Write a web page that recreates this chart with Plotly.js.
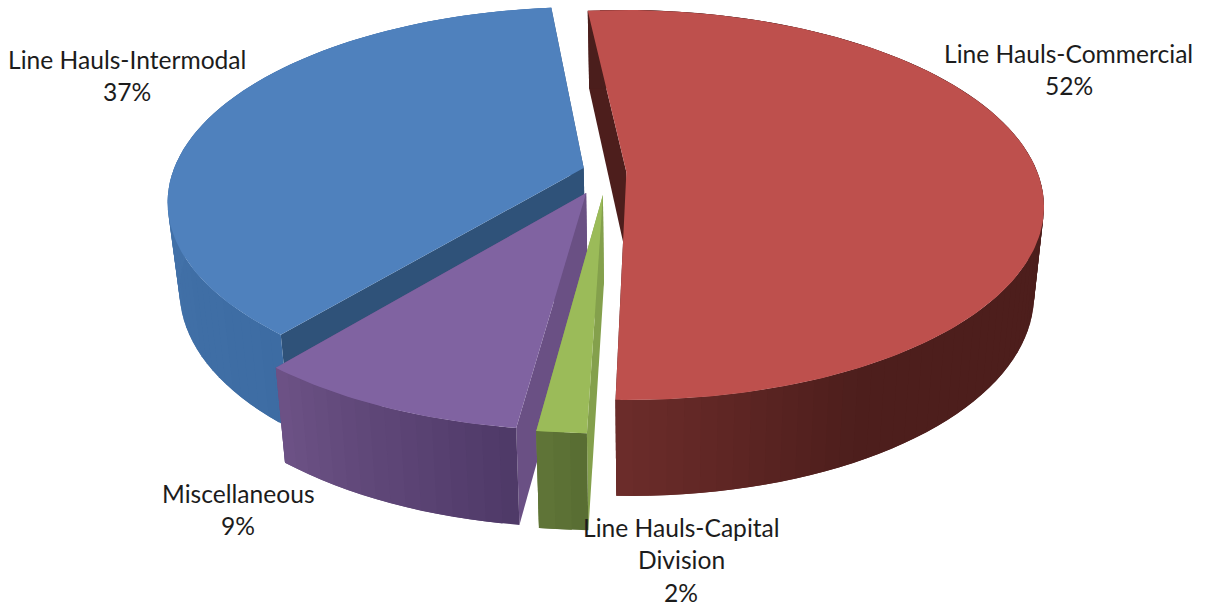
<!DOCTYPE html>
<html><head><meta charset="utf-8">
<script src="https://cdn.plot.ly/plotly-3.0.1.min.js"></script>
<style>html,body{margin:0;padding:0;background:#fff}#chart{width:1206px;height:606px}</style>
</head><body><div id="chart"></div>
<script>
// ---- data ----
const categories = ["Line Hauls-Commercial", "Line Hauls-Capital Division", "Miscellaneous", "Line Hauls-Intermodal"];
const percents = [52.1, 1.6, 8.9, 37.4];
// ---- label text, split where the reference wraps ----
const labelLines = [["Line Hauls-Commercial", "52%"], ["Line Hauls-Capital", "Division", "2%"], ["Miscellaneous", "9%"], ["Line Hauls-Intermodal", "37%"]];
const labelCenterX = [1068.5, 681, 238, 126.5];
const labelFirstY = [53, 527, 493, 59];
const labelLineStep = 32.7;
// ---- styles ----
const topColors = ["#BE504D", "#9BBB59", "#8063A1", "#4F81BD"];
const cutColors = ["#4D1E1C", "#84A04C", "#6A5084", "#2F5279"];
const wallStops = [
  [[0, [75, 30, 28]], [0.84, [77, 30, 28]], [1, [108, 44, 42]]],
  [[0, [88, 108, 50]], [1, [96, 118, 56]]],
  [[0, [78, 57, 103]], [1, [109, 82, 134]]],
  [[0, [61, 108, 163]], [0.45, [68, 115, 170]], [1, [76, 124, 182]]]
];
// ---- pie geometry (plan units, radius = 1) ----
const startAngle = -5.8, cx = 605, cy = 172, R = 411, A = 189.4, K = 0.169;
const explodeX = [0.052, -0.005, -0.045, -0.052];
const explodeY = [0, 0.119, 0.109, -0.021];
const depth0 = 87, depth1 = 9, taper = 0.025, bottomShift = 1;

function project(X, Y, Z) {
  const s = 1 / (1 - K * Y);
  return [cx + R * X * s * (1 - taper * Z) + bottomShift * Z, cy + A * Y * s + Z * (depth0 + depth1 * Y)];
}
const rad = d => d * Math.PI / 180;
function rim(i, deg, Z) {
  return project(explodeX[i] + Math.sin(rad(deg)), explodeY[i] - Math.cos(rad(deg)), Z);
}
function poly(pts, color, w) {
  return {
    type: "scatter", mode: "lines", x: pts.map(p => p[0]), y: pts.map(p => p[1]),
    fill: "toself", fillcolor: color, line: { color: color, width: w }, hoverinfo: "skip", showlegend: false
  };
}
function stopColor(stops, f) {
  for (let j = 0; j < stops.length - 1; j++) {
    const a = stops[j], b = stops[j + 1];
    if (f <= b[0]) {
      const t = (f - a[0]) / (b[0] - a[0]);
      return "rgb(" + a[1].map((v, n) => Math.round(v + (b[1][n] - v) * t)).join(",") + ")";
    }
  }
  return "rgb(" + stops[stops.length - 1][1].join(",") + ")";
}
const total = percents.reduce((a, b) => a + b, 0);
const ranges = [];
let ang = startAngle;
percents.forEach(p => { ranges.push([ang, ang + p / total * 360]); ang += p / total * 360; });

const traces = [];
[3, 2, 1, 0].forEach(i => {
  const [a0, a1] = ranges[i];
  const apexT = project(explodeX[i], explodeY[i], 0), apexB = project(explodeX[i], explodeY[i], 1);
  traces.push(poly([apexT, rim(i, a1, 0), rim(i, a1, 1), apexB, apexT], cutColors[i], 0));
  traces.push(poly([apexT, rim(i, a0, 0), rim(i, a0, 1), apexB, apexT], cutColors[i], 0));
  // wall strips: each strip runs a little into the next so no seams show between them
  const n = Math.max(2, Math.round((a1 - a0) / 2));
  for (let j = 0; j < n; j++) {
    const u = a0 + (a1 - a0) * j / n, v = a0 + (a1 - a0) * Math.min(n, j + 2) / n;
    const mid = a0 + (a1 - a0) * Math.min(n, j + 1) / n;
    traces.push(poly([rim(i, u, 0), rim(i, mid, 0), rim(i, v, 0), rim(i, v, 1), rim(i, mid, 1), rim(i, u, 1), rim(i, u, 0)],
      stopColor(wallStops[i], (j + 0.5) / n), 0));
  }
  const face = [apexT];
  const m = Math.max(6, Math.round(a1 - a0));
  for (let j = 0; j <= m; j++) face.push(rim(i, a0 + (a1 - a0) * j / m, 0));
  face.push(apexT);
  traces.push(poly(face, topColors[i], 0));
});

const annotations = [];
labelLines.forEach((lines, i) => lines.forEach((t, j) => annotations.push({
  text: t, x: labelCenterX[i], y: labelFirstY[i] + j * labelLineStep, xref: "x", yref: "y",
  showarrow: false, xanchor: "center", yanchor: "middle",
  font: { family: "Lato, Carlito, sans-serif", size: 24.6, color: "#1c1c1c" }
})));

Plotly.newPlot("chart", traces, {
  width: 1206, height: 606, margin: { l: 0, r: 0, t: 0, b: 0 },
  paper_bgcolor: "#fff", plot_bgcolor: "#fff", showlegend: false,
  xaxis: { range: [0, 1206], visible: false, fixedrange: true },
  yaxis: { range: [606, 0], visible: false, fixedrange: true },
  annotations: annotations
}, { staticPlot: true });
</script></body></html>
